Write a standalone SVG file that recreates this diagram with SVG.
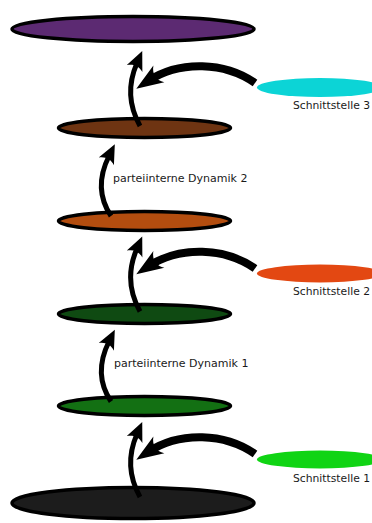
<svg xmlns="http://www.w3.org/2000/svg" width="372" height="523" viewBox="0 0 372 523">
<style>
.layer{stroke:#000;stroke-width:3.5}
.iface{stroke:none}
.lbl{font-family:"DejaVu Sans",Verdana,sans-serif;font-size:11px;fill:#1a1a1a}
.thin{fill:none;stroke:#000;stroke-width:5;marker-end:url(#hs)}
.thick{fill:none;stroke:#000;stroke-width:8;marker-end:url(#hl)}
</style>
<defs>
<marker id="hs" markerUnits="userSpaceOnUse" orient="auto" markerWidth="40" markerHeight="40" refX="0" refY="0" viewBox="-20 -20 40 40" overflow="visible">
<path d="M-6,-8.5 L13,0 L-6,8.5 C-2,3 -2,-3 -6,-8.5 Z" fill="#000"/>
</marker>
<marker id="hl" markerUnits="userSpaceOnUse" orient="auto" markerWidth="60" markerHeight="60" refX="0" refY="0" viewBox="-30 -30 60 60" overflow="visible">
<path d="M-13,-10 L14,0 L-13,10 C-7,3.5 -7,-3.5 -13,-10 Z" fill="#000"/>
</marker>
</defs>
<g id="layer-top"><ellipse class="layer" cx="133" cy="29" rx="121" ry="12.5" fill="#5c2a72"/></g>
<g id="layer-brown"><ellipse class="layer" cx="144.5" cy="128" rx="86" ry="9.5" fill="#6e3412"/></g>
<g id="layer-orange"><ellipse class="layer" cx="144.5" cy="221" rx="86" ry="9.5" fill="#b34d0f"/></g>
<g id="layer-darkgreen"><ellipse class="layer" cx="144.5" cy="314" rx="86" ry="9.5" fill="#0f4a12"/></g>
<g id="layer-green"><ellipse class="layer" cx="144.5" cy="406" rx="86" ry="9.5" fill="#137013"/></g>
<g id="layer-bottom"><ellipse class="layer" cx="133" cy="503" rx="121" ry="15.5" fill="#1c1c1c"/></g>
<g id="schnittstelle-3"><ellipse class="iface" cx="320" cy="87.5" rx="63" ry="9.5" fill="#0cd4d6"/><text class="lbl" x="293" y="109" textLength="77" lengthAdjust="spacingAndGlyphs">Schnittstelle 3</text></g>
<g id="schnittstelle-2"><ellipse class="iface" cx="320" cy="273.5" rx="63" ry="9" fill="#e34812"/><text class="lbl" x="293" y="295" textLength="77" lengthAdjust="spacingAndGlyphs">Schnittstelle 2</text></g>
<g id="schnittstelle-1"><ellipse class="iface" cx="320" cy="459.5" rx="63" ry="9" fill="#10d414"/><text class="lbl" x="293" y="482" textLength="77" lengthAdjust="spacingAndGlyphs">Schnittstelle 1</text></g>
<g id="dynamik-2-label"><text class="lbl" x="113" y="182">parteiinterne Dynamik 2</text></g>
<g id="dynamik-1-label"><text class="lbl" x="114" y="367">parteiinterne Dynamik 1</text></g>
<g id="connectors">
<path class="thin" d="M140,126 C130,108 126,88 137,63"/>
<path class="thick" d="M255,83 C225,62 180,60 148,81"/>
<path class="thin" d="M111,216 C99,198 98,178 109,156"/>
<path class="thin" d="M140,311.5 C130,293.5 126,273.5 137,248.5"/>
<path class="thick" d="M255,268.5 C225,247.5 180,245.5 148,266.5"/>
<path class="thin" d="M111,401.5 C99,383.5 98,363.5 109,341.5"/>
<path class="thin" d="M140,497 C130,479 126,459 137,434"/>
<path class="thick" d="M255,454 C225,433 180,431 148,452"/>
</g>
</svg>
